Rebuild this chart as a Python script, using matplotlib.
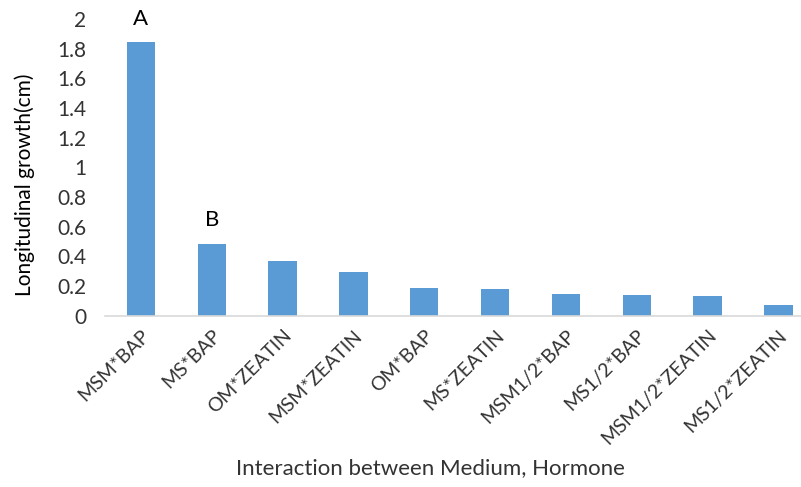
import numpy as np
import matplotlib
matplotlib.use("Agg")
import matplotlib.pyplot as plt

plt.rcParams['font.family'] = ['Lato', 'DejaVu Sans']

# data
categories = ["MSM*BAP", "MS*BAP", "OM*ZEATIN", "MSM*ZEATIN", "OM*BAP",
              "MS*ZEATIN", "MSM1/2*BAP", "MS1/2*BAP", "MSM1/2*ZEATIN", "MS1/2*ZEATIN"]
growth = [1.842, 0.481, 0.367, 0.297, 0.185, 0.178, 0.146, 0.139, 0.133, 0.072]
letters = ["A", "B", "", "", "", "", "", "", "", ""]
yticks = [0, 0.2, 0.4, 0.6, 0.8, 1, 1.2, 1.4, 1.6, 1.8, 2]
ytick_labels = ["0", "0.2", "0.4", "0.6", "0.8", "1", "1.2", "1.4", "1.6", "1.8", "2"]

fig = plt.figure(figsize=(8.01, 4.87), dpi=100)
ax = fig.add_axes([105.5 / 801, (487 - 315.7) / 487, 708.4 / 801, 296.7 / 487])

x = np.arange(len(categories))
ax.bar(x, growth, width=0.4, color="#5B9BD5")

for i in range(len(categories)):
    if letters[i]:
        ax.annotate(letters[i], (x[i], growth[i]), xytext=(0, 10), textcoords="offset points",
                    ha="center", va="bottom", fontsize=16, color="black")

ax.set_xlim(-0.5, len(categories) - 0.5)
ax.set_ylim(0, 2)
ax.set_yticks(yticks)
ax.set_yticklabels(ytick_labels, fontsize=15, color="#333333")
ax.set_xticks(x)
ax.set_xticklabels(categories, rotation=45, ha="right", rotation_mode="anchor",
                   fontsize=14, color="#333333")
ax.tick_params(axis="both", length=0)
ax.tick_params(axis="y", pad=14)
ax.tick_params(axis="x", pad=8)

for s in ["top", "right", "left"]:
    ax.spines[s].set_visible(False)
ax.spines["bottom"].set_color("#D9D9D9")
ax.spines["bottom"].set_linewidth(1.2)

ax.set_ylabel("Longitudinal growth(cm)", fontsize=15, color="black")
ax.yaxis.set_label_coords(-0.1, 0.44)
fig.text(430 / 801, 1 - 468 / 487, "Interaction between Medium, Hormone",
         ha="center", va="center", fontsize=16, color="#333333")

fig.savefig("out.png", dpi=100)
